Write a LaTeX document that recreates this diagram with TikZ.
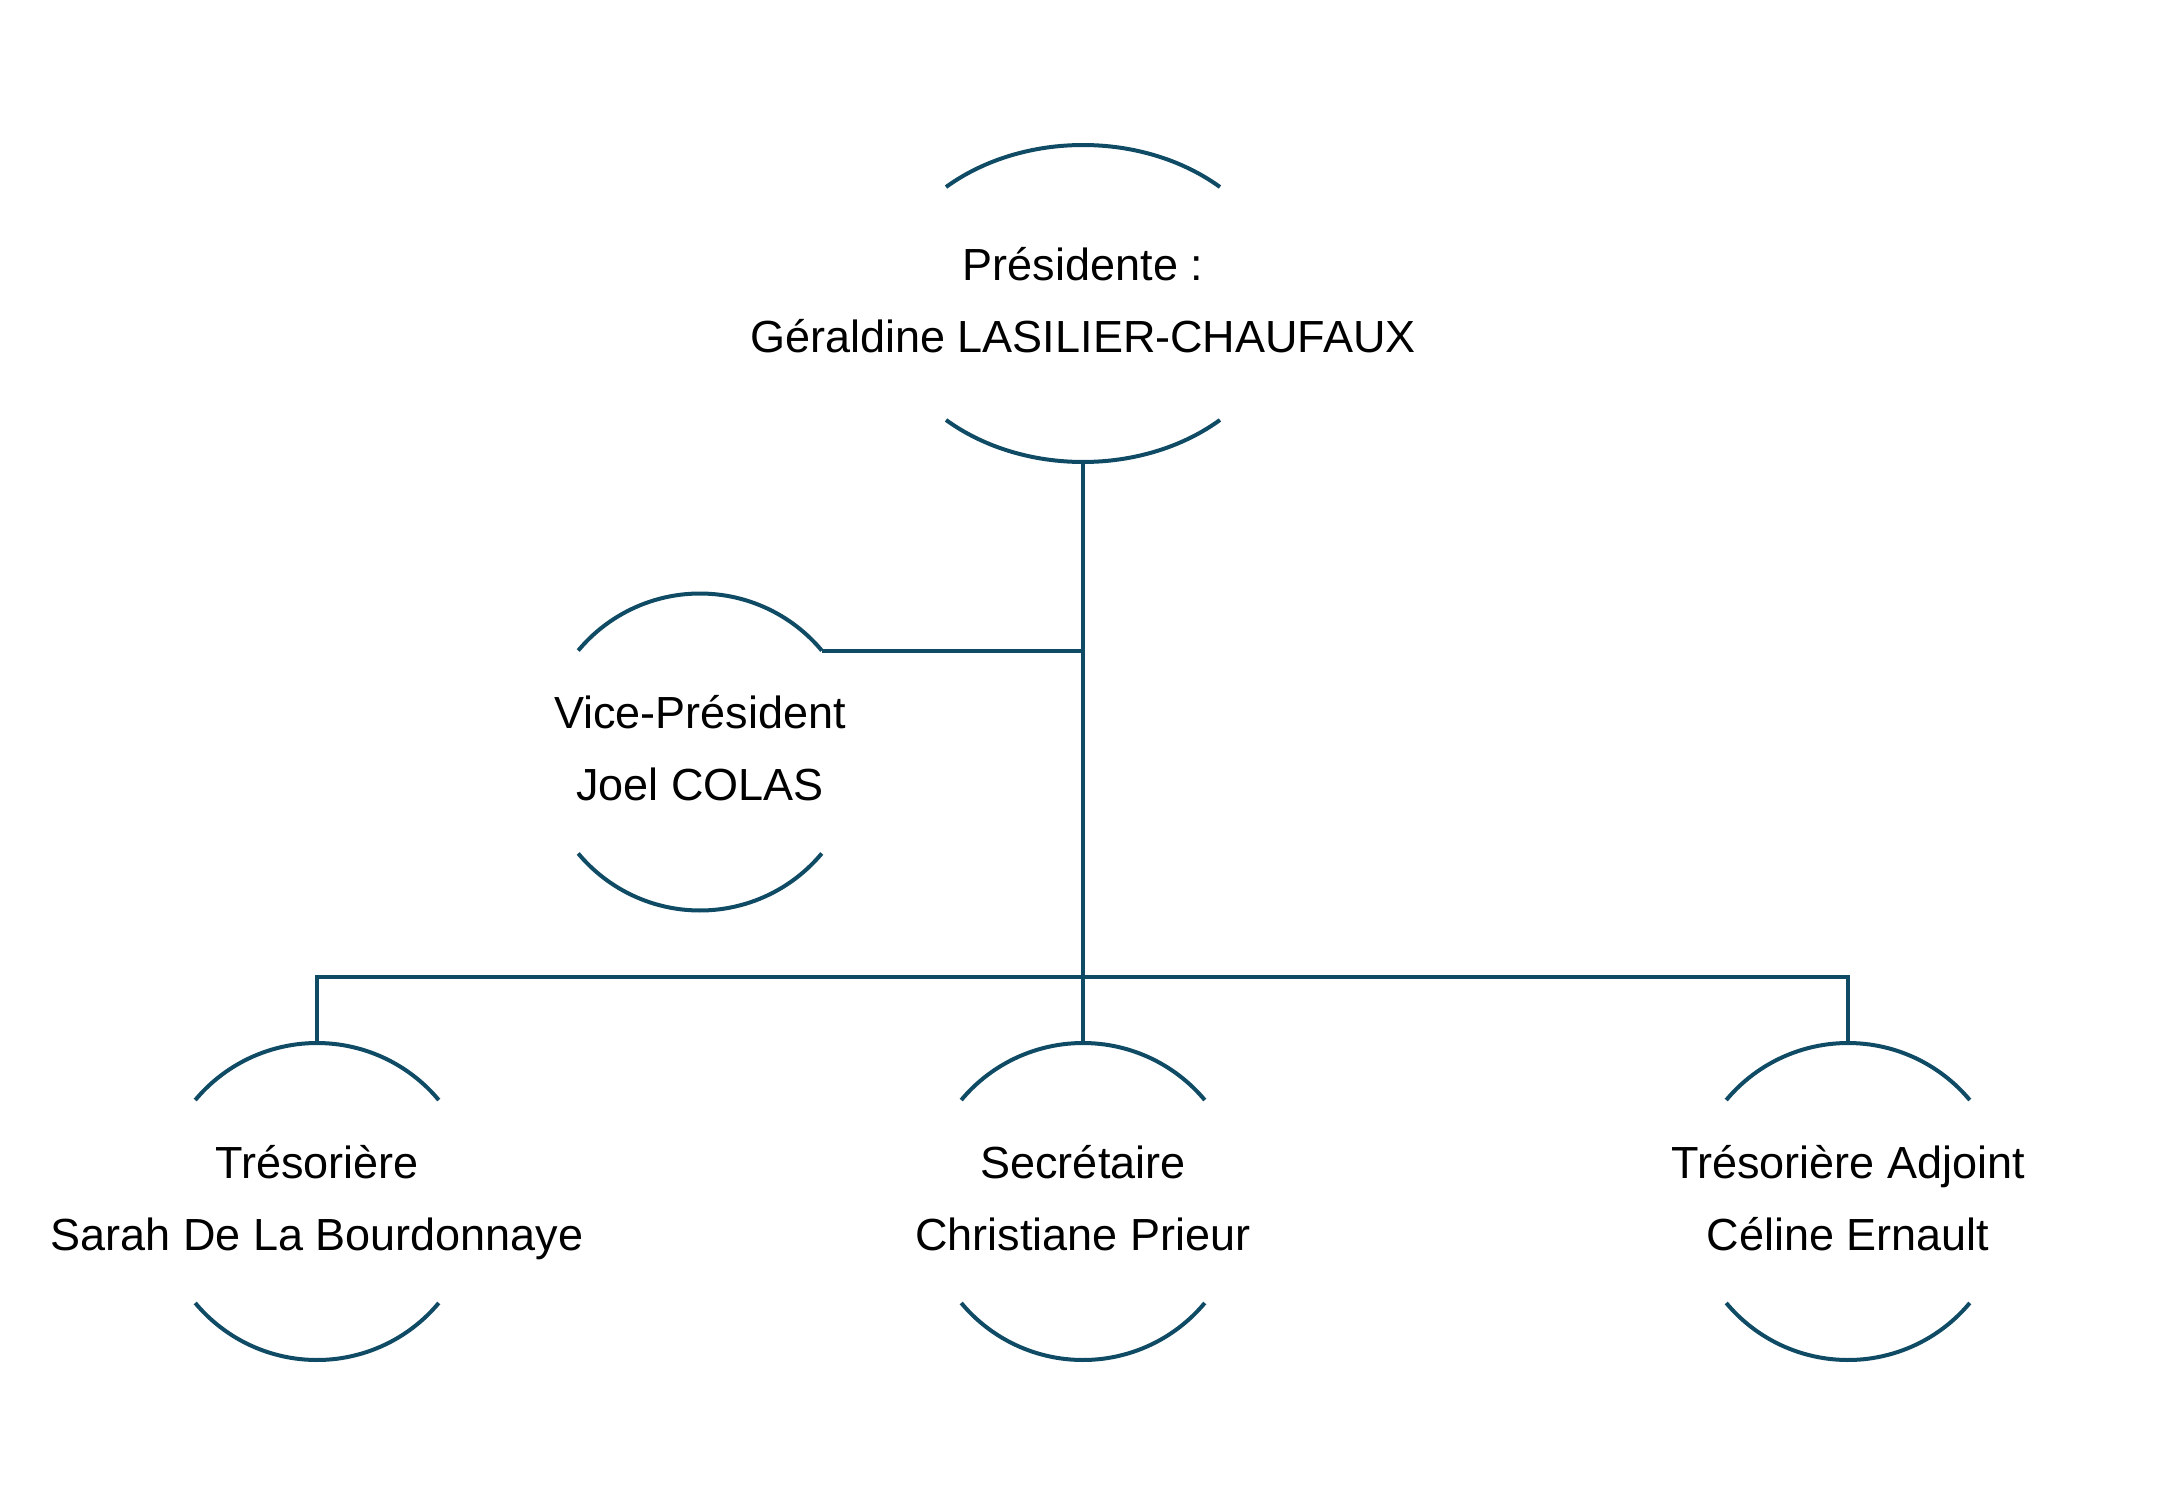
\documentclass[tikz,border=0pt]{standalone}
\usepackage{fontspec}
\setmainfont{Liberation Sans}
\usetikzlibrary{shapes.geometric,calc}
\definecolor{orgline}{HTML}{104B66}
\newcommand{\lnstrut}{\rule[-9pt]{0pt}{36pt}}
\tikzset{
  ring/.style={circle, draw=none, inner sep=0pt, minimum size=158.5pt},
  wide ring/.style={ellipse, draw=none, inner sep=0pt, minimum width=202pt, minimum height=158.5pt},
  arcline/.style={draw=orgline, line width=2pt},
  conn/.style={draw=orgline, line width=2pt},
  lbl/.style={align=center, inner sep=0pt, text=black, font=\fontsize{22.5}{36}\selectfont}
}
\begin{document}
\begin{tikzpicture}[x=0.5pt,y=-0.5pt]
\useasboundingbox (0,0) rectangle (2164,1504);
% shapes
\node[wide ring] (pres) at (1083,303.5) {};
\node[ring] (vp) at (700,752) {};
\node[ring] (tres) at (317,1201.5) {};
\node[ring] (sec) at (1083,1201.5) {};
\node[ring] (adj) at (1848,1201.5) {};
% arcs
\draw[arcline] (pres.center) ++(227.3:202 and 158.5) arc[start angle=227.3, end angle=312.7, x radius=202, y radius=158.5];
\draw[arcline] (pres.center) ++(47.3:202 and 158.5) arc[start angle=47.3, end angle=132.7, x radius=202, y radius=158.5];
\foreach \n in {vp,tres,sec,adj}{
  \draw[arcline] (\n.center) ++(219.8:158.5) arc[start angle=219.8, end angle=320.2, radius=158.5];
  \draw[arcline] (\n.center) ++(39.8:158.5) arc[start angle=39.8, end angle=140.2, radius=158.5];
}
% labels
\node[lbl] (prest) at (1083,298) {\lnstrut Présidente :\\\lnstrut Géraldine LASILIER-CHAUFAUX};
\node[lbl] (vpt) at (700,746.5) {\lnstrut Vice-Président\\\lnstrut Joel COLAS};
\node[lbl] (trest) at (317,1196) {\lnstrut Trésorière\\\lnstrut Sarah De La Bourdonnaye};
\node[lbl] (sect) at (1083,1196) {\lnstrut Secrétaire\\\lnstrut Christiane Prieur};
\node[lbl] (adjt) at (1848,1196) {\lnstrut Trésorière Adjoint\\\lnstrut Céline Ernault};
% connectors
\coordinate (vpr) at ($(vp.center)+(320.2:158.5)$);
\coordinate (bus) at (1083,977);
\draw[conn] (pres.south) -- (sec.north);
\draw[conn] (vpr) -- (vpr -| pres.south);
\draw[conn] (tres.north) |- (bus) -| (adj.north);
\end{tikzpicture}
\end{document}
